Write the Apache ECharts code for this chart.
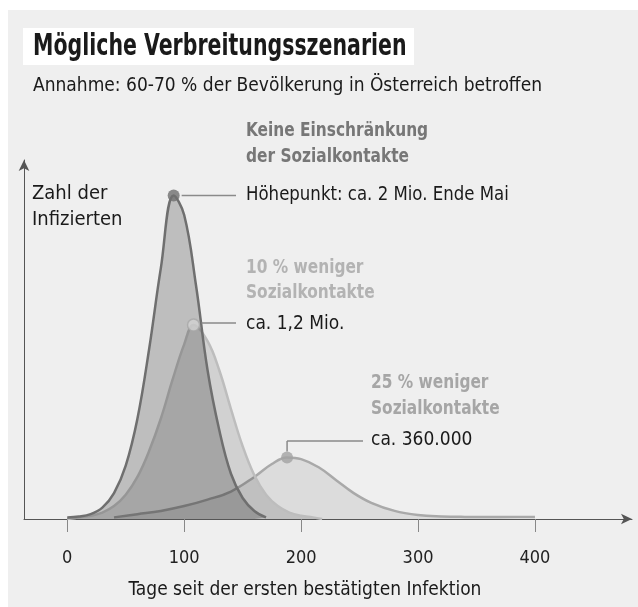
<!DOCTYPE html>
<html>
<head>
<meta charset="utf-8">
<script src="https://cdn.jsdelivr.net/npm/echarts@6/dist/echarts.min.js"></script>
<style>
  html, body { margin: 0; padding: 0; background: #fff; }
  #main { width: 638px; height: 607px; }
</style>
</head>
<body>
<div id="main"></div>
<script>
// Tage seit der ersten bestätigten Infektion / Infizierte in Mio.
var daysNone = [0, 10, 20, 30, 40, 50, 60, 70, 80, 91, 100, 110, 120, 130, 140, 150, 160, 170];
var valsNone = [0.01, 0.015, 0.03, 0.07, 0.16, 0.33, 0.62, 1.05, 1.55, 2.0, 1.88, 1.45, 0.92, 0.55, 0.28, 0.13, 0.05, 0.01];

var days10 = [0, 10, 20, 30, 40, 50, 60, 70, 80, 90, 100, 108, 120, 130, 140, 150, 160, 170, 180, 190, 200, 210, 218];
var vals10 = [0, 0.01, 0.02, 0.04, 0.08, 0.15, 0.26, 0.42, 0.62, 0.86, 1.08, 1.2, 1.1, 0.92, 0.68, 0.45, 0.27, 0.15, 0.08, 0.04, 0.02, 0.01, 0];

var days25 = [40, 60, 80, 100, 120, 140, 160, 175, 188, 200, 215, 230, 245, 260, 280, 300, 320, 340, 370, 400];
var vals25 = [0.01, 0.03, 0.05, 0.08, 0.12, 0.17, 0.26, 0.34, 0.38, 0.37, 0.32, 0.24, 0.16, 0.1, 0.05, 0.025, 0.016, 0.013, 0.012, 0.012];

var peakDays = [91, 108, 188];
var peakVals = [2.0, 1.2, 0.38];

var xTicks = [0, 100, 200, 300, 400];

var FONT = "'Liberation Sans Narrow', 'DejaVu Sans Condensed', 'Liberation Sans', sans-serif";

function pairs(xs, ys) {
    return xs.map(function (x, i) { return [x, ys[i]]; });
}

var myChart = echarts.init(document.getElementById('main'));

var option = {
    backgroundColor: '#ffffff',
    animation: false,
    grid: { left: 24, right: 6, top: 160, bottom: 88 },
    xAxis: {
        type: 'value',
        min: -37,
        max: 483,
        splitLine: { show: false },
        axisLine: {
            show: true,
            symbol: ['none', 'arrow'],
            symbolSize: [8, 11],
            lineStyle: { color: '#555', width: 1 }
        },
        axisTick: {
            show: true,
            customValues: xTicks,
            length: 13,
            lineStyle: { color: '#888' }
        },
        axisLabel: {
            customValues: xTicks,
            margin: 30,
            fontSize: 18,
            fontFamily: FONT,
            color: '#222'
        }
    },
    yAxis: {
        type: 'value',
        min: 0,
        max: 2.22,
        splitLine: { show: false },
        axisLabel: { show: false },
        axisTick: { show: false },
        axisLine: {
            show: true,
            onZero: false,
            symbol: ['none', 'arrow'],
            symbolSize: [8, 11],
            lineStyle: { color: '#555', width: 1 }
        }
    },
    series: [
        {
            name: '25 % weniger',
            type: 'line',
            smooth: 0.4,
            showSymbol: false,
            data: pairs(days25, vals25),
            lineStyle: { color: '#a9a9a9', width: 2.5 },
            areaStyle: { color: 'rgba(0,0,0,0.11)' },
            z: 2
        },
        {
            name: '10 % weniger',
            type: 'line',
            smooth: 0.4,
            showSymbol: false,
            data: pairs(days10, vals10),
            lineStyle: { color: '#bdbdbd', width: 2.5 },
            areaStyle: { color: 'rgba(0,0,0,0.18)' },
            z: 3
        },
        {
            name: 'Keine Einschränkung',
            type: 'line',
            smooth: 0.4,
            showSymbol: false,
            data: pairs(daysNone, valsNone),
            lineStyle: { color: '#6f6f6f', width: 2.5 },
            areaStyle: { color: 'rgba(0,0,0,0.29)' },
            z: 4
        },
        {
            type: 'scatter',
            symbolSize: 12,
            data: [
                { value: [peakDays[0], peakVals[0]], itemStyle: { color: '#6f6f6f' } },
                { value: [peakDays[1], peakVals[1]], itemStyle: { color: '#d2d2d2', borderColor: '#a8a8a8', borderWidth: 1.5 } },
                { value: [peakDays[2], peakVals[2]], itemStyle: { color: '#a3a3a3' } }
            ],
            z: 6
        }
    ]
};
myChart.setOption(option);

// Beschriftungen und Hinweislinien
var p0 = myChart.convertToPixel({ gridIndex: 0 }, [peakDays[0], peakVals[0]]);
var p1 = myChart.convertToPixel({ gridIndex: 0 }, [peakDays[1], peakVals[1]]);
var p2 = myChart.convertToPixel({ gridIndex: 0 }, [peakDays[2], peakVals[2]]);

function txt(s, x, y, size, color, bold, sx) {
    return {
        type: 'text',
        x: x, y: y, z: 20,
        scaleX: sx || 1,
        style: {
            text: s,
            fill: color,
            font: (bold ? 'bold ' : '') + size + 'px ' + FONT,
            verticalAlign: 'middle'
        }
    };
}
function line(x1, y1, x2, y2, color) {
    return {
        type: 'line', z: 5,
        shape: { x1: x1, y1: y1, x2: x2, y2: y2 },
        style: { stroke: color, lineWidth: 1.5 }
    };
}

myChart.setOption({
    graphic: [
        { type: 'rect', z: -10, shape: { x: 8, y: 10, width: 630, height: 597 }, style: { fill: '#efefef' } },
        { type: 'rect', z: -9, shape: { x: 23, y: 28, width: 391, height: 37 }, style: { fill: '#ffffff' } },
        txt('Mögliche Verbreitungsszenarien', 33, 47, 30, '#1a1a1a', true, 0.76),
        txt('Annahme: 60-70 % der Bevölkerung in Österreich betroffen', 33, 86, 19, '#1a1a1a', false),
        txt('Zahl der', 32, 194, 20, '#1a1a1a', false),
        txt('Infizierten', 32, 220, 20, '#1a1a1a', false),
        txt('Keine Einschränkung', 246, 131, 19, '#777777', true, 0.9),
        txt('der Sozialkontakte', 246, 157, 19, '#777777', true, 0.9),
        txt('Höhepunkt: ca. 2 Mio. Ende Mai', 246, 195, 19, '#1a1a1a', false, 0.97),
        txt('10 % weniger', 246, 268, 19, '#b3b3b3', true, 0.9),
        txt('Sozialkontakte', 246, 293, 19, '#b3b3b3', true, 0.9),
        txt('ca. 1,2 Mio.', 246, 324, 19, '#1a1a1a', false),
        txt('25 % weniger', 371, 383, 19, '#a6a6a6', true, 0.9),
        txt('Sozialkontakte', 371, 409, 19, '#a6a6a6', true, 0.9),
        txt('ca. 360.000', 371, 440, 19, '#1a1a1a', false),
        {
            type: 'text', z: 20,
            x: 305, y: 590,
            style: {
                text: 'Tage seit der ersten bestätigten Infektion',
                fill: '#1a1a1a',
                font: '19px ' + FONT,
                align: 'center',
                verticalAlign: 'middle'
            }
        },
        line(p0[0] + 8, p0[1], 236, p0[1], '#8a8a8a'),
        line(p1[0] + 8, p1[1] - 2, 236, p1[1] - 2, '#8a8a8a'),
        line(p2[0], p2[1] - 6, p2[0], 441, '#8a8a8a'),
        line(p2[0], 441, 363, 441, '#8a8a8a')
    ]
});
</script>
</body>
</html>
